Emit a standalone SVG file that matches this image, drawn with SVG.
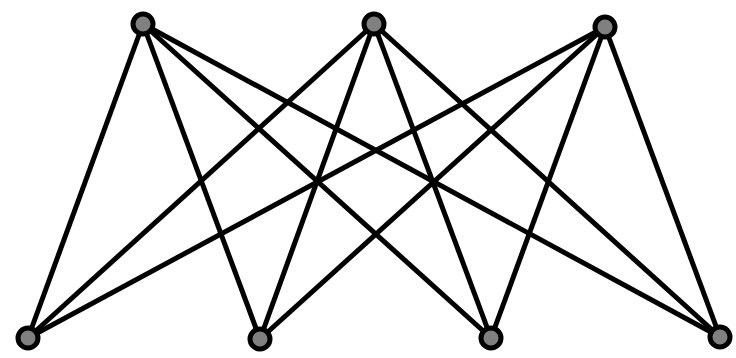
<svg xmlns="http://www.w3.org/2000/svg" width="736" height="358" viewBox="0 0 736 358">
<style>
.e{stroke:#000;stroke-width:5;fill:none}
.n{fill:#808080;stroke:#000;stroke-width:5}
</style>
<rect width="736" height="358" fill="#fff"/>
<g id="edges">
<line class="e" x1="143" y1="24" x2="28" y2="338"/>
<line class="e" x1="143" y1="24" x2="260" y2="339"/>
<line class="e" x1="143" y1="24" x2="491" y2="338"/>
<line class="e" x1="143" y1="24" x2="720" y2="337"/>
<line class="e" x1="374" y1="24" x2="28" y2="338"/>
<line class="e" x1="374" y1="24" x2="260" y2="339"/>
<line class="e" x1="374" y1="24" x2="491" y2="338"/>
<line class="e" x1="374" y1="24" x2="720" y2="337"/>
<line class="e" x1="605" y1="27" x2="28" y2="338"/>
<line class="e" x1="605" y1="27" x2="260" y2="339"/>
<line class="e" x1="605" y1="27" x2="491" y2="338"/>
<line class="e" x1="605" y1="27" x2="720" y2="337"/>
</g>
<g id="t1"><circle class="n" cx="143" cy="24" r="10"/></g>
<g id="t2"><circle class="n" cx="374" cy="24" r="10"/></g>
<g id="t3"><circle class="n" cx="605" cy="27" r="10"/></g>
<g id="b1"><circle class="n" cx="28" cy="338" r="10"/></g>
<g id="b2"><circle class="n" cx="260" cy="339" r="10"/></g>
<g id="b3"><circle class="n" cx="491" cy="338" r="10"/></g>
<g id="b4"><circle class="n" cx="720" cy="337" r="10"/></g>
</svg>
